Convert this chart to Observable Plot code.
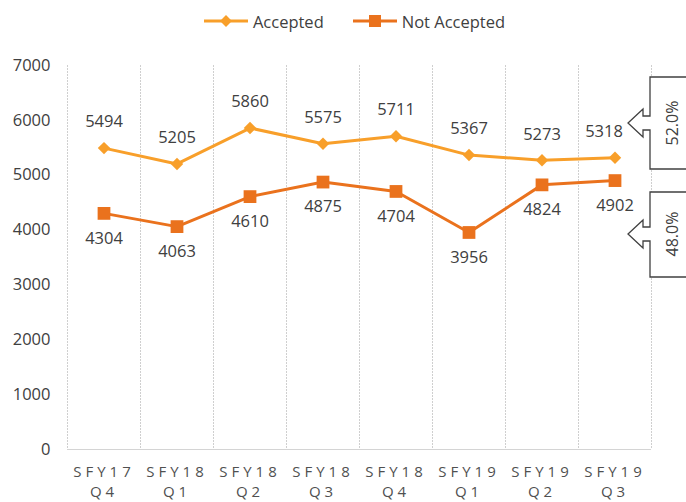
<!DOCTYPE html>
<html><head><meta charset="utf-8">
<script src="https://cdn.jsdelivr.net/npm/d3@7"></script>
<script src="https://cdn.jsdelivr.net/npm/@observablehq/plot@0.6"></script>
<style>
body{margin:0;background:#fff;font-family:"Open Sans",sans-serif;}
#legend{height:42px;width:686px;display:flex;align-items:center;justify-content:center;box-sizing:border-box;padding-left:22px;font-size:16.5px;color:#404040;}
.item{display:flex;align-items:center;margin:0 14px;}
.item svg{margin-right:4px;}
g[aria-label="x-axis tick label"] text{letter-spacing:4px;}
</style></head><body>
<div id="legend"></div><div id="chart"></div>
<script>
const quarters = ["SFY17\nQ4","SFY18\nQ1","SFY18\nQ2","SFY18\nQ3","SFY18\nQ4","SFY19\nQ1","SFY19\nQ2","SFY19\nQ3"];
const accepted = [5494,5205,5860,5575,5711,5367,5273,5318];
const notAccepted = [4304,4063,4610,4875,4704,3956,4824,4902];
const yTicks = [0,1000,2000,3000,4000,5000,6000,7000];
const seriesNames = ["Accepted","Not Accepted"];
const seriesColors = ["#F89F2A","#EA721D"];
const seriesSymbols = ["diamond2","square"];

const idx = d3.range(quarters.length);
const rows = idx.map(i => ({i, a: accepted[i], n: notAccepted[i]}));
const bounds = d3.range(quarters.length + 1).map(i => i - 0.5);
const last = quarters.length - 1;
const total = accepted[last] + notAccepted[last];
const shares = [accepted[last] / total, notAccepted[last] / total];

// legend
const legend = d3.select("#legend");
seriesNames.forEach((name, k) => {
  const it = legend.append("div").attr("class", "item");
  const s = it.append("svg").attr("width", 46).attr("height", 16);
  s.append("line").attr("x1", 1).attr("x2", 45).attr("y1", 8).attr("y2", 8)
    .attr("stroke", seriesColors[k]).attr("stroke-width", 3);
  if (k === 0) s.append("path").attr("d", d3.symbol(d3.symbolDiamond2, 90)()).attr("transform", "translate(23,8)").attr("fill", seriesColors[k]);
  else s.append("rect").attr("x", 17).attr("y", 2).attr("width", 12).attr("height", 12).attr("fill", seriesColors[k]);
  it.append("span").text(name);
});

const txt = "#404040";
const chart = Plot.plot({
  width: 686, height: 460,
  marginTop: 23, marginBottom: 53, marginLeft: 67, marginRight: 35,
  style: {fontFamily: "Open Sans", fontSize: "16.5px", color: txt, background: "#fff"},
  x: {domain: [-0.5, quarters.length - 0.5], axis: null},
  y: {domain: [0, 7000], axis: null},
  marks: [
    Plot.ruleX(bounds, {stroke: "#cfcfcf", strokeDasharray: "2,1"}),
    Plot.ruleY([0], {stroke: "#d4d4d4", strokeWidth: 1.2}),
    Plot.axisY({ticks: yTicks, tickFormat: d => String(d), label: null, tickSize: 0, tickPadding: 17, fontSize: 16.5, fill: txt}),
    Plot.axisX({ticks: idx, tickFormat: i => quarters[i], label: null, tickSize: 0, tickPadding: 13, fontSize: 15, lineHeight: 1.35, fill: "#505050"}),
    Plot.line(rows, {x: "i", y: "a", stroke: seriesColors[0], strokeWidth: 3}),
    Plot.line(rows, {x: "i", y: "n", stroke: seriesColors[1], strokeWidth: 3}),
    Plot.dot(rows, {x: "i", y: "a", symbol: seriesSymbols[0], r: 5.6, fill: seriesColors[0]}),
    Plot.dot(rows, {x: "i", y: "n", symbol: seriesSymbols[1], r: 7.2, fill: seriesColors[1]}),
    Plot.text(rows, {filter: d => d.i !== last, x: "i", y: "a", text: d => String(d.a), dy: -26, fill: txt}),
    Plot.text(rows, {filter: d => d.i === last, x: "i", y: "a", text: d => String(d.a), dy: -26, dx: -11, fill: txt}),
    Plot.text(rows, {x: "i", y: "n", text: d => String(d.n), dy: 25, fill: txt})
  ]
});
document.getElementById("chart").appendChild(chart);

// callouts (decoration)
const svg = d3.select(chart);
const callouts = [
  {top: 35, bottom: 127, cy: 81, text: (shares[0] * 100).toFixed(1) + "%"},
  {top: 150, bottom: 235, cy: 192, text: (shares[1] * 100).toFixed(1) + "%"}
];
const bx = 650, hx = 643, tip = 628;
callouts.forEach(c => {
  const p = `M700,${c.top}L${bx},${c.top}L${bx},${c.cy-7}L${hx},${c.cy-7}L${hx},${c.cy-14}L${tip},${c.cy}L${hx},${c.cy+14}L${hx},${c.cy+7}L${bx},${c.cy+7}L${bx},${c.bottom}L700,${c.bottom}`;
  svg.append("path").attr("d", p).attr("fill", "#fff").attr("stroke", "#404040").attr("stroke-width", 1.3);
  svg.append("text").attr("transform", `translate(672,${c.cy}) rotate(-90)`)
    .attr("text-anchor", "middle").attr("dominant-baseline", "central")
    .attr("font-size", 16).attr("fill", txt).text(c.text);
});
</script>
</body></html>
